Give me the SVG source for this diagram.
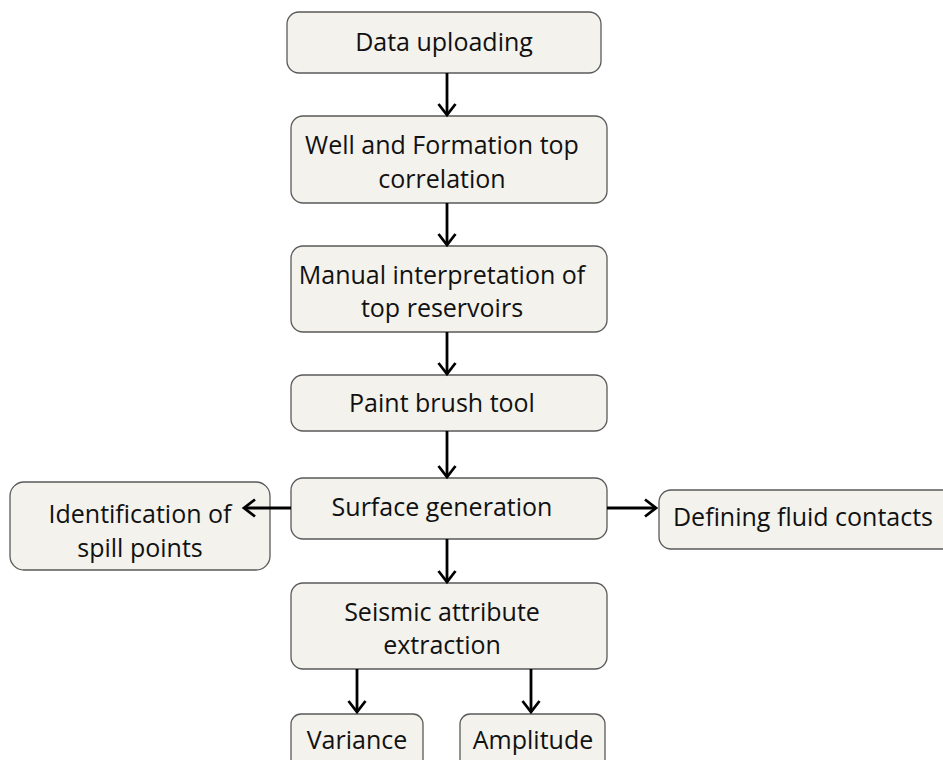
<svg xmlns="http://www.w3.org/2000/svg" width="943" height="760" viewBox="0 0 943 760">
<defs>
<marker id="ah" viewBox="0 0 20 20" refX="17" refY="10" markerWidth="20" markerHeight="20" markerUnits="userSpaceOnUse" orient="auto">
<path d="M6,1.5 L17,10 L6,18.5" fill="none" stroke="#000" stroke-width="2.8"/>
</marker>
<style>
.box{fill:#F3F2EC;stroke:#5a5a5a;stroke-width:1.3}
.t{font-family:"Open Sans","Liberation Sans",sans-serif;font-size:25px;fill:#111;text-anchor:middle}
.c{stroke:#000;stroke-width:2.8;fill:none;marker-end:url(#ah)}
</style>
</defs>
<rect width="943" height="760" fill="#fff"/>
<g id="n1"><rect class="box" x="287" y="12" width="314" height="61" rx="12"/><text class="t" x="444" y="51">Data uploading</text></g>
<g id="n2"><rect class="box" x="291" y="116" width="316" height="87" rx="12"/><text class="t" x="442" y="154">Well and Formation top</text><text class="t" x="442" y="188">correlation</text></g>
<g id="n3"><rect class="box" x="291" y="246" width="316" height="86" rx="12"/><text class="t" x="442" y="284">Manual interpretation of</text><text class="t" x="442" y="317">top reservoirs</text></g>
<g id="n4"><rect class="box" x="291" y="375" width="316" height="56" rx="12"/><text class="t" x="442" y="412">Paint brush tool</text></g>
<g id="n5"><rect class="box" x="291" y="478" width="316" height="61" rx="12"/><text class="t" x="442" y="516">Surface generation</text></g>
<g id="n6"><rect class="box" x="10" y="482" width="260" height="88" rx="14"/><text class="t" x="140" y="523">Identification of</text><text class="t" x="140" y="557">spill points</text></g>
<g id="n7"><rect class="box" x="659" y="490" width="300" height="59" rx="12"/><text class="t" x="803" y="526">Defining fluid contacts</text></g>
<g id="n8"><rect class="box" x="291" y="583" width="316" height="86" rx="12"/><text class="t" x="442" y="621">Seismic attribute</text><text class="t" x="442" y="654">extraction</text></g>
<g id="n9"><rect class="box" x="291" y="714" width="132" height="60" rx="10"/><text class="t" x="357" y="749">Variance</text></g>
<g id="n10"><rect class="box" x="460" y="714" width="145" height="60" rx="10"/><text class="t" x="533" y="749">Amplitude</text></g>
<g id="connectors">
<line class="c" x1="447" y1="73" x2="447" y2="115"/>
<line class="c" x1="447" y1="203" x2="447" y2="245"/>
<line class="c" x1="447" y1="332" x2="447" y2="374"/>
<line class="c" x1="447" y1="431" x2="447" y2="477"/>
<line class="c" x1="447" y1="539" x2="447" y2="582"/>
<line class="c" x1="291" y1="508" x2="244" y2="508"/>
<line class="c" x1="607" y1="508" x2="656" y2="508"/>
<line class="c" x1="357" y1="669" x2="357" y2="712"/>
<line class="c" x1="531" y1="669" x2="531" y2="712"/>
</g>
</svg>
